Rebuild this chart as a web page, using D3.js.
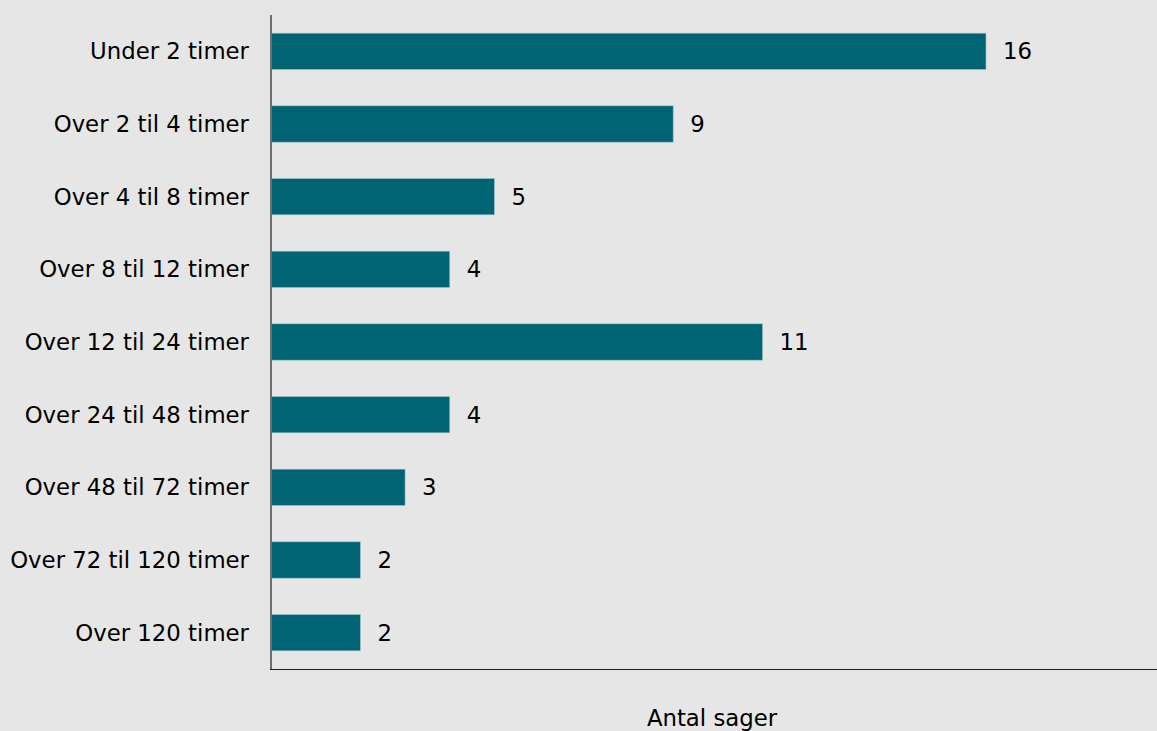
<!DOCTYPE html>
<html lang="da">
<head>
<meta charset="UTF-8">
<title>Antal sager</title>
<script src="https://d3js.org/d3.v7.min.js"></script>
<style>
    body { margin: 0; padding: 0; overflow: hidden; background: #e6e6e6; }
    svg { display: block; font-family: Verdana, "DejaVu Sans", sans-serif; }
</style>
</head>
<body>
<svg id="chart"></svg>
<script>
    // Data
    const categories = [
        "Under 2 timer", "Over 2 til 4 timer", "Over 4 til 8 timer",
        "Over 8 til 12 timer", "Over 12 til 24 timer", "Over 24 til 48 timer",
        "Over 48 til 72 timer", "Over 72 til 120 timer", "Over 120 timer"
    ];
    const values = [16, 9, 5, 4, 11, 4, 3, 2, 2];
    const xTitle = "Antal sager";

    const width = 1157, height = 731;
    const fontSize = 22.8;
    const svg = d3.select("#chart").attr("width", width).attr("height", height);

    svg.append("rect").attr("width", width).attr("height", height).attr("fill", "#e6e6e6");

    const plotLeft = 271, plotTop = 15, plotBottom = 669;

    const x = d3.scaleLinear().domain([0, 16]).range([plotLeft, 986]);
    const y = d3.scaleBand().domain(categories).range([plotTop, plotBottom])
        .paddingInner(0.5).paddingOuter(0.25);

    // Bars
    svg.selectAll(".bar")
        .data(values)
        .enter()
        .append("rect")
        .attr("class", "bar")
        .attr("x", x(0))
        .attr("y", (d, i) => y(categories[i]))
        .attr("width", d => x(d) - x(0))
        .attr("height", y.bandwidth())
        .attr("fill", "#006472")
        .attr("stroke", "#9fc4cc")
        .attr("stroke-width", 0.6);

    // Value labels
    svg.selectAll(".val")
        .data(values)
        .enter()
        .append("text")
        .attr("class", "val")
        .attr("x", d => x(d) + 17)
        .attr("y", (d, i) => y(categories[i]) + y.bandwidth() / 2)
        .attr("dy", "0.35em")
        .attr("font-size", fontSize)
        .attr("fill", "#000")
        .text(d => d);

    // Category labels
    svg.selectAll(".cat")
        .data(categories)
        .enter()
        .append("text")
        .attr("class", "cat")
        .attr("x", plotLeft - 22)
        .attr("y", d => y(d) + y.bandwidth() / 2)
        .attr("dy", "0.35em")
        .attr("text-anchor", "end")
        .attr("font-size", fontSize)
        .attr("fill", "#000")
        .text(d => d);

    // Axis lines
    svg.append("line")
        .attr("x1", plotLeft).attr("x2", plotLeft)
        .attr("y1", plotTop).attr("y2", plotBottom)
        .attr("stroke", "#6e6e6e").attr("stroke-width", 2);
    svg.append("line")
        .attr("x1", plotLeft - 1).attr("x2", width)
        .attr("y1", plotBottom + 0.5).attr("y2", plotBottom + 0.5)
        .attr("stroke", "#1e1e1e").attr("stroke-width", 1);

    // Axis title
    svg.append("text")
        .attr("x", 712)
        .attr("y", 726)
        .attr("text-anchor", "middle")
        .attr("font-size", fontSize)
        .attr("fill", "#000")
        .text(xTitle);
</script>
</body>
</html>
